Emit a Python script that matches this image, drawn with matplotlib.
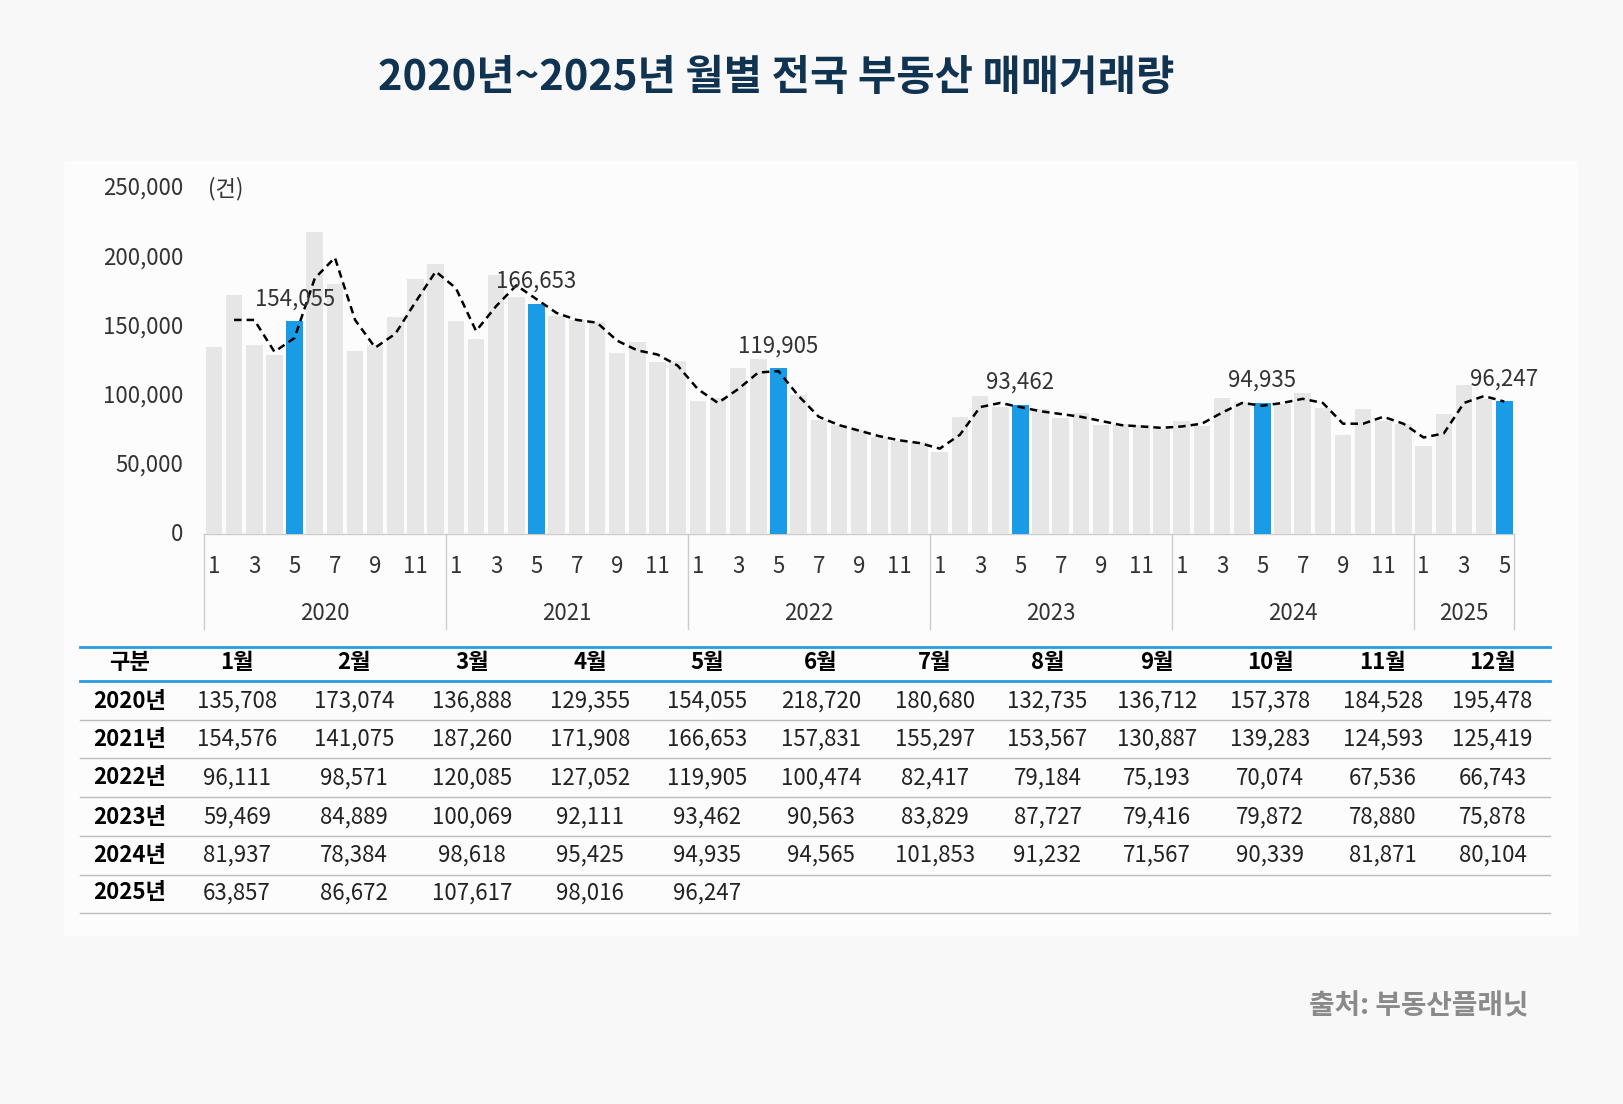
import matplotlib.pyplot as plt
import numpy as np

plt.rcParams['font.family'] = ['Noto Sans CJK KR', 'DejaVu Sans']

YEARS = ["2020", "2021", "2022", "2023", "2024", "2025"]
MONTHS = ["1월", "2월", "3월", "4월", "5월", "6월", "7월", "8월", "9월", "10월", "11월", "12월"]
VOLUME = {
    "2020": [135708, 173074, 136888, 129355, 154055, 218720, 180680, 132735, 136712, 157378, 184528, 195478],
    "2021": [154576, 141075, 187260, 171908, 166653, 157831, 155297, 153567, 130887, 139283, 124593, 125419],
    "2022": [96111, 98571, 120085, 127052, 119905, 100474, 82417, 79184, 75193, 70074, 67536, 66743],
    "2023": [59469, 84889, 100069, 92111, 93462, 90563, 83829, 87727, 79416, 79872, 78880, 75878],
    "2024": [81937, 78384, 98618, 95425, 94935, 94565, 101853, 91232, 71567, 90339, 81871, 80104],
    "2025": [63857, 86672, 107617, 98016, 96247],
}
# dashed trend line (starts at Feb 2020), thousands
TREND = [155, 155, 132, 142, 185, 200, 155, 135, 145, 168, 190,
         178, 147, 165, 180, 170, 160, 155, 153, 140, 133, 130, 122,
         105, 95, 105, 117, 118, 100, 85, 79, 75, 71, 68, 66,
         62, 72, 92, 95, 92, 89, 87, 85, 82, 79, 78, 77,
         78, 80, 88, 95, 93, 95, 98, 95, 80, 80, 85, 80,
         70, 73, 95, 100, 96]

# layout coordinates below are measured on a 1568x1066 view of the reference
W, H = 1568, 1066
fig = plt.figure(figsize=(16.23, 11.04), dpi=100, facecolor="#f8f8f8")

ov = fig.add_axes([0, 0, 1, 1], zorder=0)
ov.set_xlim(0, W); ov.set_ylim(H, 0); ov.axis("off")
ov.add_patch(plt.Rectangle((62, 155), 1462, 748, color="#fcfcfc", zorder=0))
ov.text(750, 75, "2020년~2025년 월별 전국 부동산 매매거래량", ha="center", va="center",
        fontsize=30, fontweight="bold", color="#0f3350")
ov.text(1477, 972, "출처: 부동산플래닛", ha="right", va="center", fontsize=20,
        fontweight="bold", color="#8a8a8a")

vals = np.concatenate([VOLUME[y] for y in YEARS])
n = len(vals)
x0, x1 = 195, 1465
ax = fig.add_axes([x0 / W, 1 - 516 / H, (x1 - x0) / W, (516 - 182) / H], zorder=1)
ax.patch.set_alpha(0)
idx = np.arange(n)
colors = ["#1a9be6" if i % 12 == 4 else "#e6e6e6" for i in idx]
ax.bar(idx, vals, width=0.82, color=colors)
ax.plot(idx[1:], np.array(TREND) * 1000, ls=(0, (3, 2)), color="black", lw=1.8)
ax.set_xlim(-0.6, n - 0.4)
ax.set_ylim(0, 250000)
ax.axis("off")
for i in idx[4::12]:
    ax.text(i, vals[i] + 8000, f"{vals[i]:,}", ha="center", va="bottom", fontsize=16,
            color="#333333")

for yv in range(0, 250001, 50000):
    ax.text(-1.5, yv, f"{yv:,}", ha="right", va="center", fontsize=16, color="#333333")
ax.text(-0.3, 250000, "(건)", ha="left", va="center", fontsize=16, color="#333333")

step = (x1 - x0) / (n + 0.2)
def px(i):
    return x0 + (i + 0.6) * step
for i in range(n):
    if i % 2 == 0:
        ov.text(px(i), 547, str(i % 12 + 1), ha="center", va="center", fontsize=16, color="#333333")
for k, y in enumerate(YEARS):
    a = px(12 * k) - step / 2
    b = px(min(12 * k + 11, n - 1)) + step / 2
    ov.plot([a, a], [516, 607], color="#cccccc", lw=1)
    ov.text((a + b) / 2, 592, y, ha="center", va="center", fontsize=16, color="#333333")
ov.plot([px(n - 1) + step / 2] * 2, [516, 607], color="#cccccc", lw=1)
ov.plot([px(0) - step / 2, px(n - 1) + step / 2], [516, 516], color="#cccccc", lw=1)

col_x = [125, 229, 342, 456, 570, 683, 793, 903, 1012, 1118, 1227, 1336, 1442]
row_y = [640, 677, 714, 751, 789, 826, 862]
ov.plot([77, 1497], [625, 625], color="#2a9be0", lw=2)
ov.plot([77, 1497], [658, 658], color="#2a9be0", lw=2)
for yl in [695, 732, 770, 807, 845, 882]:
    ov.plot([77, 1497], [yl, yl], color="#bbbbbb", lw=1)
ov.text(col_x[0], row_y[0], "구분", ha="center", va="center", fontsize=16, fontweight="bold")
for c, m in enumerate(MONTHS):
    ov.text(col_x[c + 1], row_y[0], m, ha="center", va="center", fontsize=16, fontweight="bold")
for r, y in enumerate(YEARS):
    yy = row_y[r + 1]
    ov.text(col_x[0], yy, y + "년", ha="center", va="center", fontsize=16, fontweight="bold")
    for c, v in enumerate(VOLUME[y]):
        ov.text(col_x[c + 1], yy, f"{v:,}", ha="center", va="center", fontsize=16, color="#222222")

fig.savefig("out.png", dpi=100, facecolor=fig.get_facecolor())
